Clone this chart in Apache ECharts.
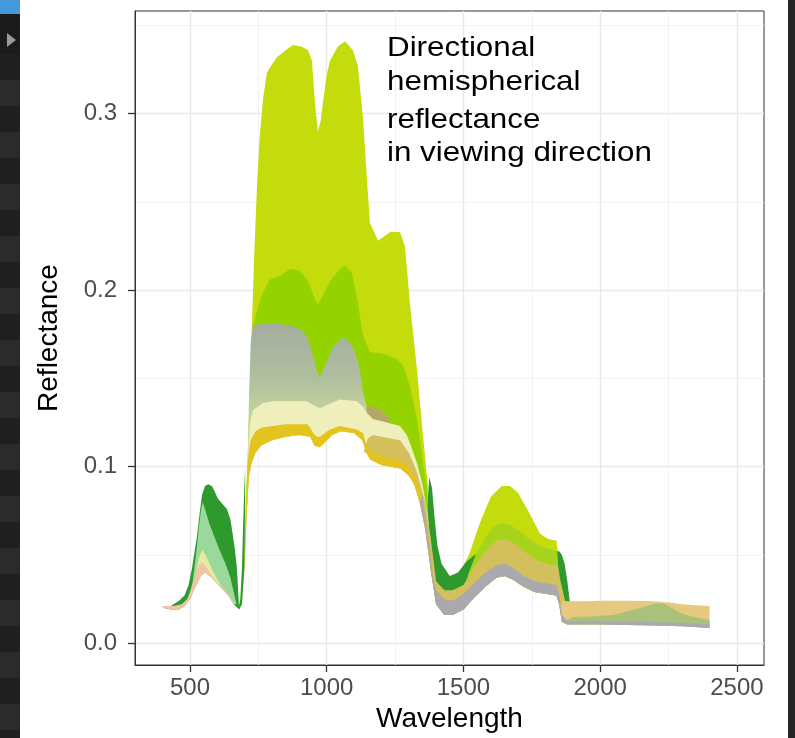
<!DOCTYPE html>
<html><head><meta charset="utf-8">
<script src="https://cdn.jsdelivr.net/npm/echarts@6.0.0/dist/echarts.min.js"></script>
<style>html,body{margin:0;padding:0;background:#fff}#c{width:795px;height:738px}</style>
</head><body><div id="c"></div>
<script>
// ---- axis ticks ----
const xTicks = [500, 1000, 1500, 2000, 2500];
const xMinor = [750, 1250, 1750, 2250];
const yTicks = [0, 0.1, 0.2, 0.3];
const yMinor = [0.05, 0.15, 0.25, 0.35];

// ---- common lower envelope of all reflectance bands ----
const bottomWl = [400,430,460,480,500,520,540,555,580,610,640,660,680,690,700,708,715,725,740,760,800,850,900,940,955,975,995,1020,1050,1100,1130,1145,1160,1200,1270,1300,1320,1340,1360,1380,1400,1430,1460,1500,1540,1580,1620,1650,1680,1720,1760,1800,1840,1850,1860,1880,2000,2100,2200,2300,2400];
const bottomVal = [.020,.019,.019,.021,.025,.032,.038,.040,.037,.032,.027,.022,.019,.022,.045,.075,.094,.102,.108,.112,.115,.117,.118,.117,.112,.111,.114,.118,.120,.119,.115,.108,.104,.101,.099,.095,.090,.080,.065,.042,.022,.016,.016,.019,.026,.032,.037,.038,.036,.032,.029,.028,.027,.022,.012,.0105,.0105,.0103,.010,.0095,.0085];

// ---- upper edges of the bands (back to front) ----
const yellowGreenWl = [690,697,704,712,720,727,735,745,755,767,781,800,818,850,877,910,932,946,957,968,978,986,1000,1012,1040,1067,1096,1114,1133,1147,1158,1188,1232,1268,1286,1304,1330,1352,1370,1385,1400,1420,1450,1480,1520,1560,1600,1640,1670,1700,1740,1780,1810,1840,1848,1853];
const yellowGreenHi = [.025,.05,.08,.11,.15,.184,.22,.259,.287,.308,.323,.328,.332,.336,.339,.338,.336,.33,.306,.29,.296,.306,.322,.33,.338,.341,.336,.327,.297,.263,.238,.228,.233,.233,.225,.193,.155,.118,.089,.06,.042,.036,.035,.038,.05,.068,.083,.089,.089,.085,.074,.062,.059,.058,.048,.024];

const darkGreenVisWl = [400,430,460,480,495,507,517,526,535,544,555,567,580,590,602,618,635,648,657,665,672,676,679,684,690,694,698,702];
const darkGreenVisHi = [.020,.021,.024,.027,.033,.042,.052,.061,.073,.084,.089,.09,.089,.086,.082,.079,.076,.07,.061,.052,.042,.03,.021,.025,.042,.065,.085,.1];

const darkGreenSwirWl = [1365,1375,1385,1395,1405,1420,1450,1480,1510,1540,1600,1700,1800,1840,1850,1860,1870,1880,1890,1897];
const darkGreenSwirHi = [.07,.094,.088,.07,.055,.045,.038,.04,.046,.05,.052,.052,.05,.052,.052,.05,.045,.035,.022,.011];

const greenNirWl = [706,712,720,730,740,750,765,792,829,866,902,932,957,968,986,1012,1048,1067,1092,1114,1133,1158,1206,1257,1279,1304,1330,1352,1366,1376];
const greenNirHi = [.06,.105,.15,.178,.186,.191,.198,.206,.208,.212,.211,.205,.195,.192,.197,.205,.212,.214,.21,.193,.174,.165,.164,.161,.157,.146,.127,.103,.089,.055];

const greenSwirWl = [1490,1520,1550,1580,1610,1640,1670,1700,1740,1780,1820,1843,1848];
const greenSwirHi = [.025,.04,.052,.06,.066,.068,.067,.064,.059,.055,.053,.052,.04];

const greyGreenWl = [710,716,722,730,767,829,891,928,950,964,975,993,1023,1055,1078,1103,1122,1133,1147,1155];
const greyGreenHi = [.1,.14,.17,.18,.181,.181,.179,.174,.163,.154,.151,.157,.168,.173,.172,.165,.154,.142,.134,.12];

const oliveWl = [1135,1147,1170,1200,1225,1245];
const oliveHi = [.12,.134,.134,.132,.128,.12];

const paleYellowWl = [708,714,720,730,767,803,850,928,950,964,975,1000,1048,1110,1133,1150,1169,1220,1268,1293,1310,1330,1350,1370,1385];
const paleYellowHi = [.085,.11,.125,.132,.136,.137,.137,.137,.135,.134,.133,.135,.138,.137,.134,.13,.127,.125,.123,.118,.111,.102,.09,.072,.045];

const tanWl = [1135,1150,1169,1200,1268,1300,1330,1360,1380,1400,1430,1460,1500,1540,1580,1620,1650,1690,1730,1770,1810,1845,1855,1870,1880];
const tanHi = [.108,.116,.118,.117,.115,.108,.097,.08,.06,.035,.03,.03,.033,.043,.052,.058,.059,.056,.051,.047,.045,.044,.035,.025,.02];

const goldWl = [698,704,710,716,722,740,760,803,850,928,940,950,964,975,993,1012,1048,1110,1133,1140,1147,1169,1205,1268,1293,1315,1341,1360,1375,1390];
const goldHi = [.04,.075,.1,.11,.115,.12,.122,.123,.124,.124,.122,.119,.117,.117,.119,.121,.123,.121,.119,.115,.112,.108,.106,.103,.101,.096,.087,.072,.055,.035];

const lightGreenWl = [495,510,522,532,540,546,555,570,590,610,630,648,660,670];
const lightGreenHi = [.024,.035,.05,.065,.075,.08,.076,.068,.06,.052,.045,.037,.029,.022];

const paleVisWl = [505,520,532,545,560,580,600,625,650];
const paleVisHi = [.027,.038,.048,.053,.049,.042,.036,.03,.024];

const pinkWl = [400,440,470,490,505,520,532,545,560,580,610,640,665];
const pinkHi = [.021,.021,.022,.025,.031,.039,.044,.046,.043,.038,.033,.028,.022];

const tanSwir2Wl = [1855,1862,1880,1950,2000,2100,2200,2250,2300,2350,2400];
const tanSwir2Hi = [.02,.024,.0237,.0237,.024,.024,.0237,.023,.022,.0215,.021];

const greenSwir2Wl = [1870,1900,1960,2000,2050,2100,2150,2200,2230,2260,2300,2350,2400];
const greenSwir2Hi = [.012,.015,.015,.0155,.016,.018,.02,.0225,.0225,.02,.0165,.0145,.013];

const greyWl = [1340,1350,1360,1375,1390,1400,1430,1460,1500,1540,1580,1620,1650,1680,1720,1760,1800,1840,1850,1860,1880,2000,2200,2300,2400];
const greyHi = [.08,.084,.072,.055,.036,.03,.025,.024,.028,.034,.04,.044,.045,.043,.038,.035,.034,.033,.028,.016,.0125,.0125,.012,.0115,.0105];

const greyGreenFill = new echarts.graphic.LinearGradient(0, 0, 0, 1, [
  {offset: 0, color: '#a3ad9f'}, {offset: 0.35, color: '#b0be9e'}, {offset: 0.65, color: '#c6d99b'}, {offset: 1, color: '#d2e2a0'}
]);

const bands = [
  {wl: yellowGreenWl, hi: yellowGreenHi, fill: '#c4dc0c'},
  {wl: darkGreenVisWl, hi: darkGreenVisHi, fill: '#2e9a2e'},
  {wl: darkGreenSwirWl, hi: darkGreenSwirHi, fill: '#2e9a2e'},
  {wl: greenNirWl, hi: greenNirHi, fill: '#95d300'},
  {wl: greenSwirWl, hi: greenSwirHi, fill: '#a6d41c'},
  {wl: greyGreenWl, hi: greyGreenHi, fill: greyGreenFill},
  {wl: oliveWl, hi: oliveHi, fill: '#b3a866'},
  {wl: paleYellowWl, hi: paleYellowHi, fill: '#eeefbb'},
  {wl: tanWl, hi: tanHi, fill: '#d3c05c'},
  {wl: goldWl, hi: goldHi, fill: '#e5c31e'},
  {wl: lightGreenWl, hi: lightGreenHi, fill: '#9ad89c'},
  {wl: paleVisWl, hi: paleVisHi, fill: '#e6eb9e'},
  {wl: pinkWl, hi: pinkHi, fill: '#f2c4a6'},
  {wl: tanSwir2Wl, hi: tanSwir2Hi, fill: '#e6c87e'},
  {wl: greenSwir2Wl, hi: greenSwir2Hi, fill: '#a9c17a'},
  {wl: greyWl, hi: greyHi, fill: '#aaa9ae'}
];

function bandSeries(b) {
  return {
    type: 'custom', coordinateSystem: 'cartesian2d', silent: true, animation: false,
    data: b.wl.map((w, i) => [w, b.hi[i]]),
    encode: {x: 0, y: 1},
    renderItem: function (params, api) {
      if (params.dataIndex !== 0) return null;
      const s = b.wl[0], e = b.wl[b.wl.length - 1];
      const pts = b.wl.map((w, i) => api.coord([w, b.hi[i]]));
      for (let j = bottomWl.length - 1; j >= 0; j--) {
        if (bottomWl[j] >= s && bottomWl[j] <= e) pts.push(api.coord([bottomWl[j], bottomVal[j]]));
      }
      return {type: 'polygon', shape: {points: pts}, style: {fill: b.fill, stroke: null}};
    }
  };
}

// ---- left dark strip (screen capture edge) ----
const strip = [
  {type: 'rect', shape: {x: 0, y: 0, width: 20, height: 738}, style: {fill: '#222222'}, z: 0},
  {type: 'rect', shape: {x: 0, y: 0, width: 20, height: 14}, style: {fill: '#4499dd'}, z: 1},
  {type: 'rect', shape: {x: 0, y: 14, width: 20, height: 40}, style: {fill: '#1b1b1b'}, z: 1},
  {type: 'polygon', shape: {points: [[7, 33], [7, 47], [16, 40]]}, style: {fill: '#9a9a9a'}, z: 2},
  {type: 'rect', shape: {x: 788, y: 0, width: 7, height: 738}, style: {fill: '#262626'}, z: 0}
];
for (let y = 54, k = 0; y < 738; y += 26, k++) {
  strip.push({type: 'rect', shape: {x: 0, y: y, width: 20, height: 26}, style: {fill: k % 2 ? '#2b2b2b' : '#1f1f1f'}, z: 1});
}
const annLines = ['Directional', 'hemispherical', 'reflectance', 'in viewing direction'];
const annTops = [34, 68, 106, 139];
annLines.forEach((t, i) => strip.push({
  type: 'text', x: 387, y: annTops[i], z: 10, scaleX: 1.12, originX: 0,
  style: {text: t, fill: '#000', font: '28px "Liberation Sans", Arial, sans-serif', textVerticalAlign: 'top'}
}));

const font = '"Liberation Sans", Arial, sans-serif';
const chart = echarts.init(document.getElementById('c'), null, {renderer: 'canvas'});
chart.setOption({
  animation: false,
  backgroundColor: '#fff',
  textStyle: {fontFamily: font},
  grid: {left: 135, right: 31, top: 11, bottom: 71, show: true, borderColor: '#333', borderWidth: 1, backgroundColor: '#fff'},
  xAxis: [
    {type: 'value', min: 299, max: 2599, position: 'bottom',
     axisLine: {show: true, onZero: false, lineStyle: {color: '#333', width: 1}},
     axisTick: {show: true, length: 7, customValues: xTicks, lineStyle: {color: '#333', width: 1.3}},
     axisLabel: {customValues: xTicks, formatter: v => String(v), color: '#4d4d4d', fontSize: 24, margin: 11, fontFamily: font},
     splitLine: {show: true, lineStyle: {color: '#e8e8e8', width: 1.4}},
     name: 'Wavelength', nameLocation: 'middle', nameGap: 40,
     nameTextStyle: {fontSize: 28, color: '#000', fontFamily: font}},
    {type: 'value', min: 299, max: 2599, position: 'top',
     axisLine: {show: false}, axisLabel: {show: false},
     axisTick: {show: false, customValues: xMinor},
     splitLine: {show: true, lineStyle: {color: '#f1f1f1', width: 0.9}}}
  ],
  yAxis: [
    {type: 'value', min: -0.0124, max: 0.3582, position: 'left',
     axisLine: {show: true, onZero: false, lineStyle: {color: '#333', width: 1}},
     axisTick: {show: true, length: 7, customValues: yTicks, lineStyle: {color: '#333', width: 1.3}},
     axisLabel: {customValues: yTicks, formatter: v => v.toFixed(1), color: '#4d4d4d', fontSize: 24, margin: 18, fontFamily: font},
     splitLine: {show: true, lineStyle: {color: '#e8e8e8', width: 1.4}},
     name: 'Reflectance', nameLocation: 'middle', nameGap: 72,
     nameTextStyle: {fontSize: 28, color: '#000', fontFamily: font}},
    {type: 'value', min: -0.0124, max: 0.3582, position: 'right',
     axisLine: {show: false}, axisLabel: {show: false},
     axisTick: {show: false, customValues: yMinor},
     splitLine: {show: true, lineStyle: {color: '#f1f1f1', width: 0.9}}}
  ],
  graphic: strip,
  series: bands.map(bandSeries)
});
</script>
</body></html>
